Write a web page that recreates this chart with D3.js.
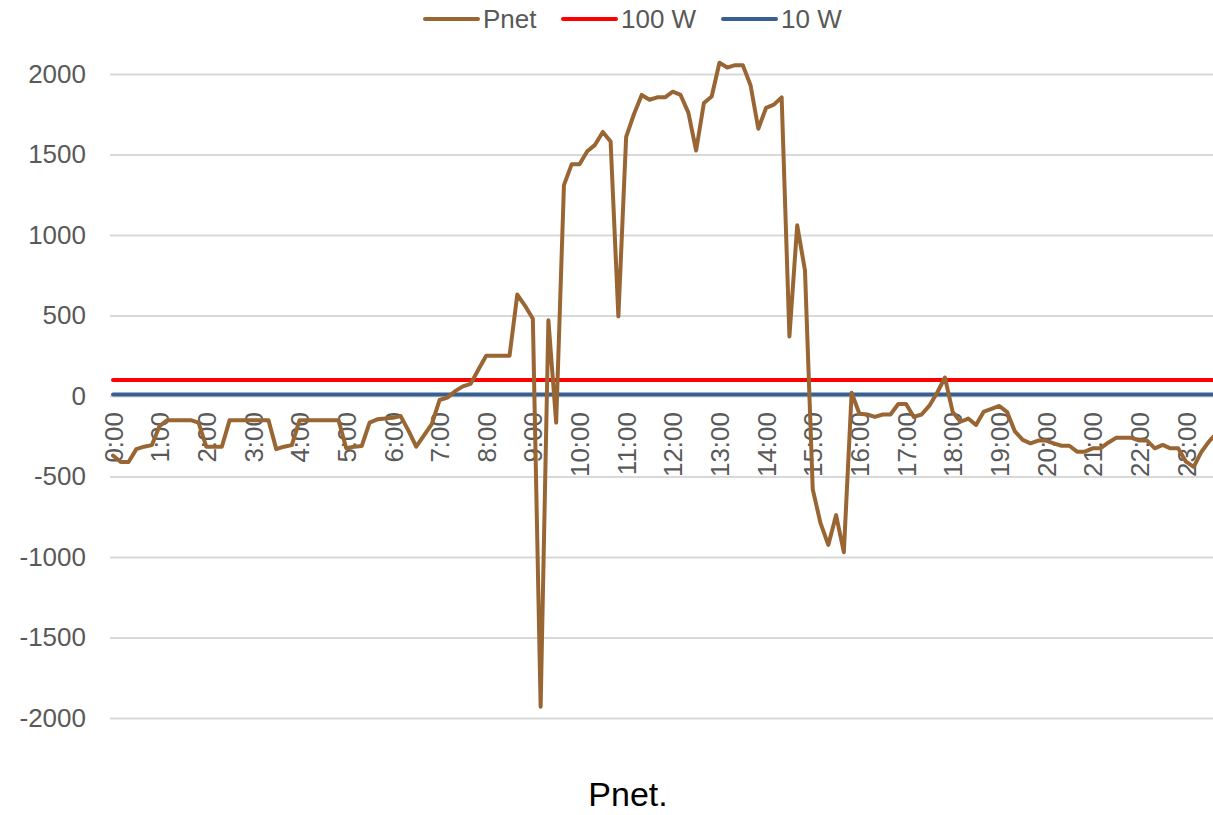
<!DOCTYPE html>
<html>
<head>
<meta charset="utf-8">
<script src="https://cdn.jsdelivr.net/npm/d3@7"></script>
<style>
  html, body { margin: 0; padding: 0; background: #fff; overflow: hidden; }
  svg { display: block; font-family: "Liberation Sans", Arial, sans-serif; }
</style>
</head>
<body>
<svg id="chart" width="1213" height="815"></svg>
<script>
// ---- data (10-minute steps starting 0:00) ----
const hourLabels = ["0:00","1:00","2:00","3:00","4:00","5:00","6:00","7:00","8:00","9:00","10:00","11:00",
  "12:00","13:00","14:00","15:00","16:00","17:00","18:00","19:00","20:00","21:00","22:00","23:00"];
const pnet = [
  -370,-410,-410,-330,-315,-305,-185,-150,-150,-150,-150,-165,
  -315,-315,-315,-150,-150,-150,-150,-150,-150,-330,-315,-305,
  -150,-150,-150,-150,-150,-150,-325,-315,-310,-165,-145,-140,
  -135,-125,-215,-315,-245,-175,-25,-10,30,60,75,165,
  250,250,250,250,630,560,480,-1930,470,-165,1310,1440,
  1440,1520,1560,1640,1580,495,1610,1750,1870,1840,1855,1855,
  1890,1870,1760,1525,1820,1860,2070,2040,2055,2055,1930,1660,
  1790,1810,1855,370,1060,780,-580,-790,-925,-740,-970,20,
  -110,-115,-130,-115,-115,-50,-50,-130,-115,-60,20,115,
  -100,-160,-140,-180,-97,-80,-62,-100,-220,-273,-294,-277,
  -277,-294,-309,-309,-346,-346,-325,-325,-290,-260,-260,-260,
  -277,-277,-325,-304,-325,-325,-408,-440,-346,-280,-230
];
const line100 = 100;
const line10 = 10;
const yTicks = [-2000,-1500,-1000,-500,0,500,1000,1500,2000];
const seriesNames = ["Pnet","100 W","10 W"];
const seriesColors = ["#996633","#ff0000","#376092"];

// ---- layout ----
const svg = d3.select("#chart");
const left = 113, stepPx = 7.775;
const n = pnet.length;
const x = d3.scaleLinear().domain([0, n - 1]).range([left, left + (n - 1) * stepPx]);
const y = d3.scaleLinear().domain([-2000, 2000]).range([718, 74]);
const gridLeft = 110, gridRight = 1213;

// gridlines
const grid = svg.append("g")
  .attr("transform", `translate(${gridLeft},0)`)
  .call(d3.axisLeft(y).tickValues(yTicks).tickSize(-(gridRight - gridLeft)).tickFormat(""));
grid.select(".domain").remove();
grid.selectAll(".tick line").attr("stroke", "#d9d9d9").attr("stroke-width", 2);

// y-axis labels
const yAxis = svg.append("g")
  .attr("transform", `translate(86,0)`)
  .call(d3.axisLeft(y).tickValues(yTicks).tickSize(0).tickPadding(0).tickFormat(d => String(d)));
yAxis.select(".domain").remove();
yAxis.selectAll(".tick text")
  .attr("fill", "#595959").attr("font-size", 26)
  .attr("font-family", "'Liberation Sans', Arial, sans-serif");

// reference lines
const refs = [{v: line100, c: seriesColors[1]}, {v: line10, c: seriesColors[2]}];
refs.forEach(r => {
  svg.append("path")
    .attr("d", d3.line()([[x(0), y(r.v)], [gridRight + 20, y(r.v)]]))
    .attr("stroke", r.c).attr("stroke-width", 4).attr("stroke-linecap", "round").attr("fill", "none");
});

// x-axis labels (rotated) near zero line
const hourIdx = hourLabels.map((_, i) => i * 6);
const xAxis = svg.append("g")
  .attr("transform", `translate(0,412)`)
  .call(d3.axisBottom(x).tickValues(hourIdx).tickSize(0).tickFormat((d, i) => hourLabels[i]));
xAxis.select(".domain").remove();
xAxis.selectAll(".tick text")
  .attr("fill", "#595959").attr("font-size", 26)
  .attr("font-family", "'Liberation Sans', Arial, sans-serif")
  .attr("text-anchor", "end")
  .attr("transform", "rotate(-90)")
  .attr("x", 0).attr("y", 0).attr("dy", "0.35em");

// Pnet line
svg.append("path")
  .datum(pnet)
  .attr("d", d3.line().x((d, i) => x(i)).y(d => y(d)))
  .attr("stroke", seriesColors[0]).attr("stroke-width", 4)
  .attr("stroke-linejoin", "round").attr("stroke-linecap", "round").attr("fill", "none");

// legend
const legendItems = [
  {name: seriesNames[0], color: seriesColors[0], x0: 425},
  {name: seriesNames[1], color: seriesColors[1], x0: 563},
  {name: seriesNames[2], color: seriesColors[2], x0: 723}
];
const lg = svg.append("g");
legendItems.forEach(it => {
  lg.append("line").attr("x1", it.x0).attr("x2", it.x0 + 53).attr("y1", 19).attr("y2", 19)
    .attr("stroke", it.color).attr("stroke-width", 4).attr("stroke-linecap", "round");
  lg.append("text").attr("x", it.x0 + 58).attr("y", 28)
    .attr("font-size", 26).attr("fill", "#595959").text(it.name);
});

// caption
svg.append("text").attr("x", 628).attr("y", 806).attr("text-anchor", "middle")
  .attr("font-size", 34).attr("fill", "#000").text("Pnet.");
</script>
</body>
</html>
